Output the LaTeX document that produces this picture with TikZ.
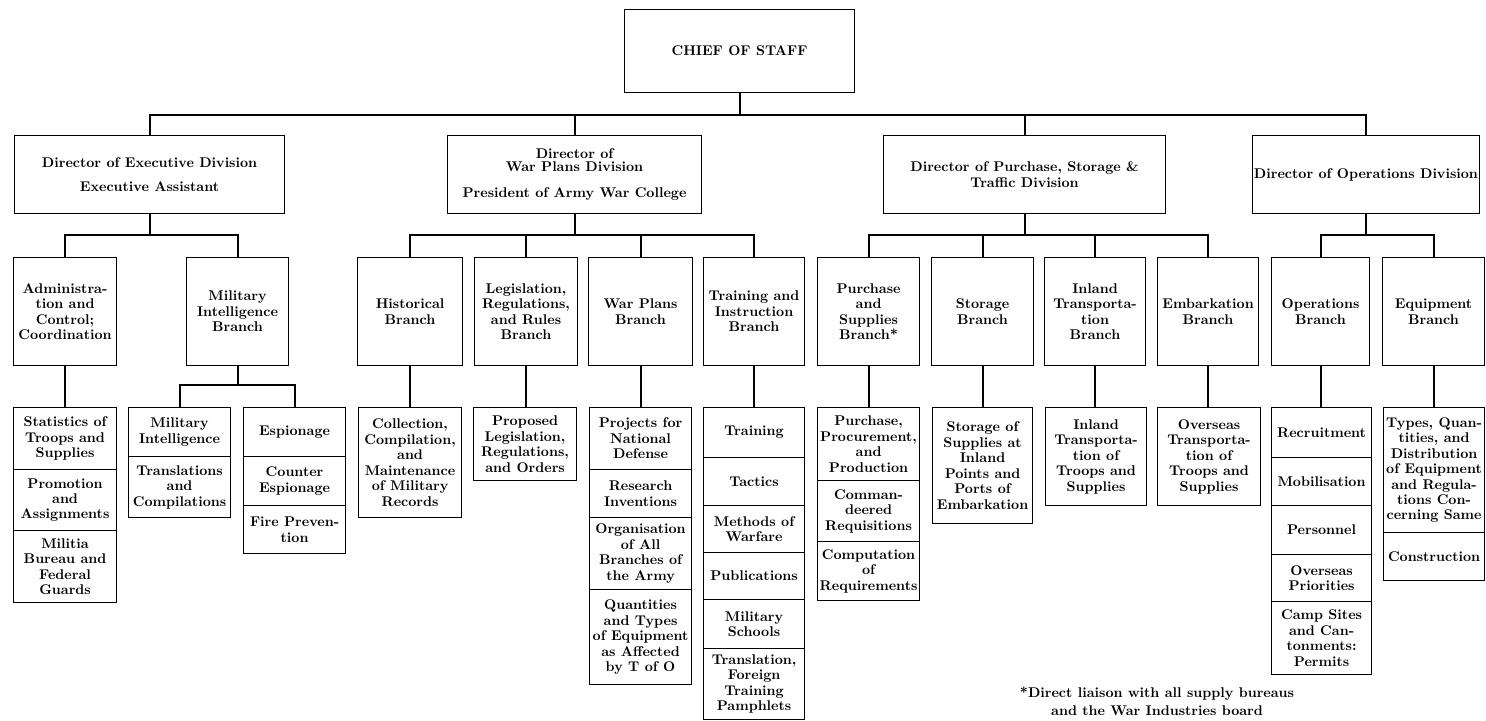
\documentclass[tikz,border=0pt]{standalone}
\usepackage{amsmath}
\usepackage{tikz}
\usetikzlibrary{positioning}

\newcommand{\cellat}[6]{%
  \pgfmathsetmacro{\cellw}{(#4-#2)*0.025}%
  \pgfmathsetmacro{\cellh}{(#5-#3)*0.025}%
  \node[cell,minimum width=\cellw cm,minimum height=\cellh cm,anchor=north west]
  (#1) at (#2,#3) {#6};%
}

\begin{document}
\begin{tikzpicture}[x=0.025cm,y=-0.025cm,
  cell/.style={draw,line width=0.8pt,align=center,inner sep=1pt,
    font=\fontsize{10}{11}\selectfont\bfseries},
  link/.style={line width=1.4pt}]

  \useasboundingbox (0,0) rectangle (1486,721);

  % top
  \cellat{chief}{624}{9}{854}{92}{CHIEF OF STAFF}

  % divisions
  \cellat{exec}{14}{135}{284}{213}{Director of Executive Division\\[6pt]Executive Assistant}
  \cellat{warplans}{447}{135}{701}{213}{Director of\\[-2pt]War Plans Division\\[8pt]President of Army War College}
  \cellat{pst}{883}{135}{1165}{213}{Director of Purchase, Storage \&\\Traffic Division}
  \cellat{ops}{1252}{135}{1472}{213}{Director of Operations Division}

  % branches
  \def \y {257}
  \def \b {365}
  \cellat{admin}{13}{\y}{116}{\b}{Administra-\\tion and\\Control;\\Coordination}
  \cellat{milint}{186}{\y}{288}{\b}{Military\\Intelligence\\Branch}
  \cellat{hist}{357}{\y}{462}{\b}{Historical\\Branch}
  \cellat{legis}{474}{\y}{577}{\b}{Legislation,\\Regulations,\\and Rules\\Branch}
  \cellat{wpb}{588}{\y}{692}{\b}{War Plans\\Branch}
  \cellat{train}{703}{\y}{804}{\b}{Training and\\Instruction\\Branch}
  \cellat{purch}{817}{\y}{919}{\b}{Purchase\\and\\Supplies\\Branch*}
  \cellat{stor}{931}{\y}{1033}{\b}{Storage\\Branch}
  \cellat{inland}{1044}{\y}{1145}{\b}{Inland\\Transporta-\\tion\\Branch}
  \cellat{embark}{1157}{\y}{1258}{\b}{Embarkation\\Branch}
  \cellat{opsb}{1271}{\y}{1369}{\b}{Operations\\Branch}
  \cellat{equip}{1382}{\y}{1484}{\b}{Equipment\\Branch}

  % sections
  \cellat{stats1}{13}{407}{116}{469}{Statistics of\\Troops and\\Supplies}
  \cellat{stats2}{13}{469}{116}{530}{Promotion\\and\\Assignments}
  \cellat{stats3}{13}{530}{116}{602}{Militia\\Bureau and\\Federal\\Guards}

  \cellat{mi1}{128}{407}{230}{456}{Military\\Intelligence}
  \cellat{mi2}{128}{456}{230}{517}{Translations\\and\\Compilations}

  \cellat{esp1}{243}{407}{345}{456}{Espionage}
  \cellat{esp2}{243}{456}{345}{505}{Counter\\Espionage}
  \cellat{esp3}{243}{505}{345}{553}{Fire Preven-\\tion}

  \cellat{coll}{358}{407}{461}{517}{Collection,\\Compilation,\\and\\Maintenance\\of Military\\Records}
  \cellat{prop}{473}{407}{576}{480}{Proposed\\Legislation,\\Regulations,\\and Orders}

  \cellat{proj1}{589}{407}{691}{469}{Projects for\\National\\Defense}
  \cellat{proj2}{589}{469}{691}{517}{Research\\Inventions}
  \cellat{proj3}{589}{517}{691}{589}{Organisation\\of All\\Branches of\\the Army}
  \cellat{proj4}{589}{589}{691}{684}{Quantities\\and Types\\of Equipment\\as Affected\\by T of O}

  \cellat{trn1}{703}{407}{804}{457}{Training}
  \cellat{trn2}{703}{457}{804}{505}{Tactics}
  \cellat{trn3}{703}{505}{804}{552}{Methods of\\Warfare}
  \cellat{trn4}{703}{552}{804}{599}{Publications}
  \cellat{trn5}{703}{599}{804}{648}{Military\\Schools}
  \cellat{trn6}{703}{648}{804}{719}{Translation,\\Foreign\\Training\\Pamphlets}

  \cellat{pur1}{817}{407}{919}{480}{Purchase,\\Procurement,\\and\\Production}
  \cellat{pur2}{817}{480}{919}{541}{Comman-\\deered\\Requisitions}
  \cellat{pur3}{817}{541}{919}{600}{Computation\\of\\Requirements}

  \cellat{sto1}{932}{407}{1032}{523}{Storage of\\Supplies at\\Inland\\Points and\\Ports of\\Embarkation}
  \cellat{inl1}{1045}{407}{1146}{505}{Inland\\Transporta-\\tion of\\Troops and\\Supplies}
  \cellat{ovs1}{1157}{407}{1260}{505}{Overseas\\Transporta-\\tion of\\Troops and\\Supplies}

  \cellat{rec1}{1271}{407}{1371}{457}{Recruitment}
  \cellat{rec2}{1271}{457}{1371}{505}{Mobilisation}
  \cellat{rec3}{1271}{505}{1371}{554}{Personnel}
  \cellat{rec4}{1271}{554}{1371}{601}{Overseas\\Priorities}
  \cellat{rec5}{1271}{601}{1371}{674}{Camp Sites\\and Can-\\tonments:\\Permits}

  \cellat{typ1}{1383}{407}{1484}{532}{Types, Quan-\\tities, and\\Distribution\\of Equipment\\and Regula-\\tions Con-\\cerning Same}
  \cellat{typ2}{1383}{532}{1484}{580}{Construction}

  % note
  \node[font=\fontsize{10}{12.5}\selectfont\bfseries,align=center] (note) at (1157,701)
  {*Direct liaison with all supply bureaus\\and the War Industries board};

  % connectors
  \coordinate (bus0) at (0,115);
  \coordinate (bus1) at (0,235);
  \coordinate (bus2) at (0,385);

  \foreach \d in {exec,warplans,pst,ops}
    \draw[link] (chief.south) |- (bus0 -| \d.north) -- (\d.north);

  \foreach \d in {admin,milint}
    \draw[link] (exec.south) |- (bus1 -| \d.north) -- (\d.north);
  \foreach \d in {hist,legis,wpb,train}
    \draw[link] (warplans.south) |- (bus1 -| \d.north) -- (\d.north);
  \foreach \d in {purch,stor,inland,embark}
    \draw[link] (pst.south) |- (bus1 -| \d.north) -- (\d.north);
  \foreach \d in {opsb,equip}
    \draw[link] (ops.south) |- (bus1 -| \d.north) -- (\d.north);

  \foreach \d in {mi1,esp1}
    \draw[link] (milint.south) |- (bus2 -| \d.north) -- (\d.north);

  \foreach \p/\c in {admin/stats1,hist/coll,legis/prop,wpb/proj1,train/trn1,
    purch/pur1,stor/sto1,inland/inl1,embark/ovs1,opsb/rec1,equip/typ1}
    \draw[link] (\p.south) -- (\p.south |- \c.north);

\end{tikzpicture}
\end{document}
